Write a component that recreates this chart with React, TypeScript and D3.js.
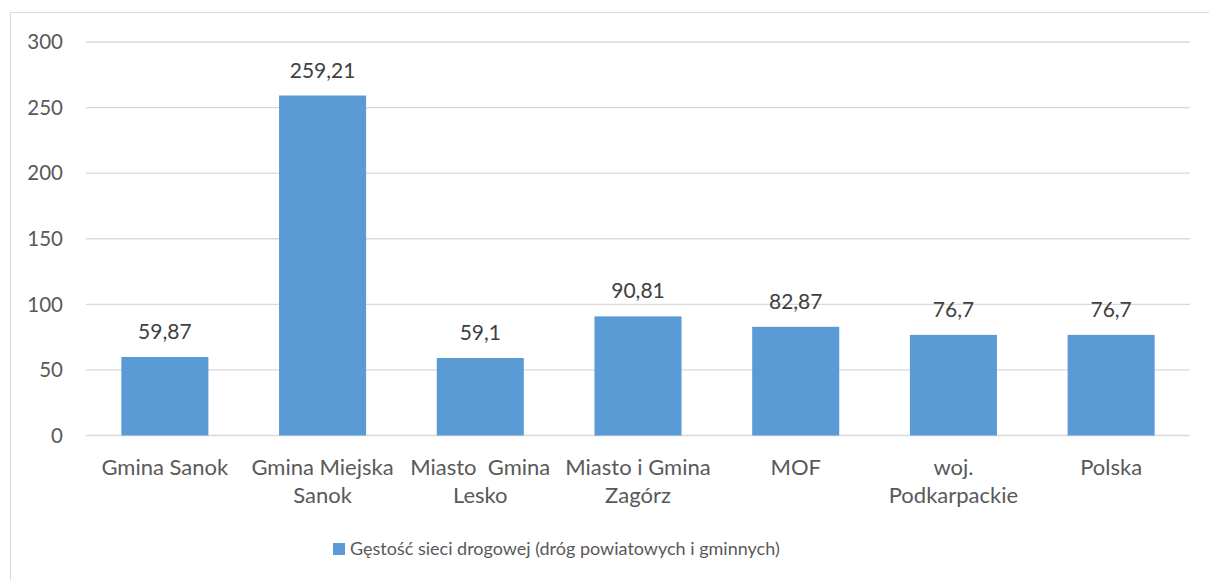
import React from "react";
import * as d3 from "d3";

const categories: string[] = [
  "Gmina Sanok",
  "Gmina Miejska\nSanok",
  "Miasto  Gmina\nLesko",
  "Miasto i Gmina\nZagórz",
  "MOF",
  "woj.\nPodkarpackie",
  "Polska",
];
const values: number[] = [59.87, 259.21, 59.1, 90.81, 82.87, 76.7, 76.7];
const yTicks: number[] = [0, 50, 100, 150, 200, 250, 300];
const seriesName = "Gęstość sieci drogowej (dróg powiatowych i gminnych)";

const W = 1209;
const H = 580;
const FONT = "Lato, 'Noto Sans', sans-serif";

export default function App() {
  const x = d3.scaleBand<string>().domain(categories).range([86, 1190]).paddingInner(0.448).paddingOuter(0.224);
  const y = d3.scaleLinear().domain([0, 300]).range([435.5, 42]);
  const fmt = (v: number) => String(v).replace(".", ",");

  return (
    <svg width={W} height={H} style={{ position: "absolute", left: 0, top: 0, background: "#fff" }} fontFamily={FONT}>
      <rect x={10.5} y={12.5} width={1220} height={600} fill="#fff" stroke="#d9d9d9" strokeWidth={1} />
      {yTicks.map((t) => (
        <g key={t}>
          <line x1={86} x2={1190} y1={y(t)} y2={y(t)} stroke="#d9d9d9" strokeWidth={1.3} />
          <text x={63} y={y(t)} dy="0.35em" textAnchor="end" fontSize={20.5} fill="#595959">
            {t}
          </text>
        </g>
      ))}
      {categories.map((c, i) => (
        <g key={c}>
          <rect x={x(c)!} y={y(values[i])} width={x.bandwidth()} height={y(0) - y(values[i])} fill="#5B9BD5" />
          <text x={x(c)! + x.bandwidth() / 2} y={y(values[i]) - 18} textAnchor="middle" fontSize={21} fill="#404040">
            {fmt(values[i])}
          </text>
          {c.split("\n").map((line, j) => (
            <text
              key={j}
              x={x(c)! + x.bandwidth() / 2}
              y={475 + j * 28}
              textAnchor="middle"
              fontSize={22}
              fill="#595959"
              style={{ whiteSpace: "pre" }}
            >
              {line}
            </text>
          ))}
        </g>
      ))}
      <rect x={333} y={543} width={12} height={12} fill="#5B9BD5" />
      <text x={350} y={555} fontSize={18} fill="#595959">
        {seriesName}
      </text>
    </svg>
  );
}
